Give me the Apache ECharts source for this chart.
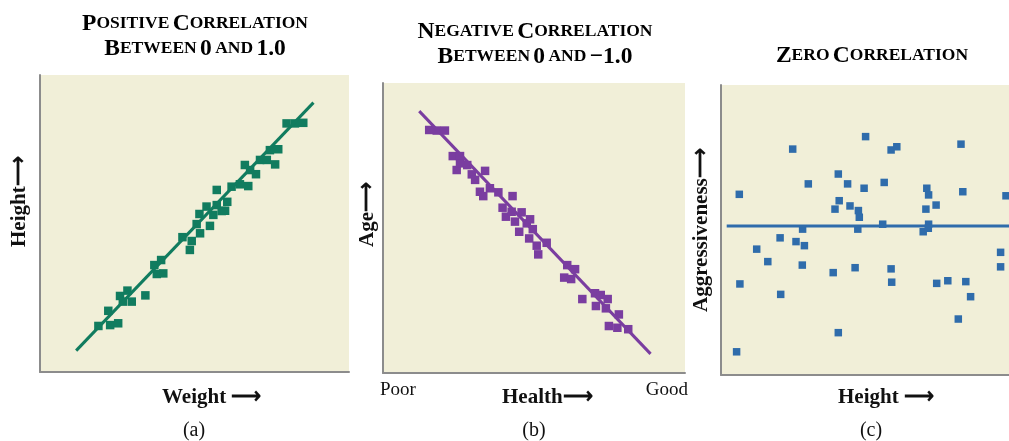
<!DOCTYPE html>
<html>
<head>
<meta charset="utf-8">
<script src="https://cdn.jsdelivr.net/npm/echarts@6/dist/echarts.min.js"></script>
<style>
  html, body { margin: 0; padding: 0; background: #fff; }
  #chart { width: 1009px; height: 441px; }
</style>
</head>
<body>
<div id="chart"></div>
<script>
// values on a 0-100 scale inside each panel
var positivePoints = [
  [18.9,15.5],[22.1,20.6],[22.7,15.8],[25.3,16.4],[25.9,25.6],[28.3,27.4],[26.8,23.7],[29.7,23.7],
  [34.1,25.8],[37.0,36.0],[39.2,37.7],[37.8,33.0],[39.9,33.2],[46.1,45.4],[49.1,44.1],[48.5,41.1],
  [50.7,49.8],[51.8,46.7],[51.6,53.2],[53.9,55.7],[55.0,49.2],[56.1,52.9],[57.2,61.3],[57.2,56.2],
  [58.8,54.2],[59.9,54.3],[60.6,57.3],[62.0,62.4],[64.7,63.2],[67.4,62.6],[66.3,69.7],[68.0,68.0],
  [69.9,66.6],[71.2,71.4],[74.4,74.7],[77.1,75.0],[73.4,71.4],[76.1,69.9],[79.8,83.7],[82.5,83.7],
  [85.2,83.9]
];
var positiveFit = [[11.7,7.2],[88.5,90.7]];

var negativePoints = [
  [15.3,83.8],[17.8,83.6],[20.5,83.6],[23.1,74.8],[25.5,74.8],[24.4,70.0],[25.5,72.3],[27.9,71.7],
  [29.4,68.5],[30.5,66.6],[33.8,69.7],[32.1,62.5],[33.2,61.0],[35.4,63.7],[38.2,62.3],[42.9,61.0],
  [39.6,57.0],[40.7,53.9],[42.6,55.6],[43.7,52.2],[45.9,55.4],[45.1,48.7],[47.6,51.6],[48.7,53.0],
  [49.6,49.6],[48.4,46.4],[50.9,43.9],[51.4,40.9],[54.2,44.9],[61.0,37.2],[63.6,35.8],[60.0,32.9],
  [62.3,32.4],[66.0,25.5],[70.2,27.5],[72.1,26.9],[70.5,23.1],[74.4,25.5],[73.8,22.3],[78.1,20.2],
  [74.8,16.2],[77.6,15.6],[81.2,15.1]
];
var negativeFit = [[12.0,90.3],[88.6,6.6]];

// panel c is cut off at the right edge of the picture, only 0-96 shows
var zeroPoints = [
  [6.1,62.3],[23.9,77.9],[29.1,65.9],[6.3,31.4],[5.2,8.0],[11.9,43.4],[15.6,39.1],[19.7,47.3],
  [19.9,27.8],[25.0,46.0],[27.8,44.6],[27.2,50.3],[27.1,37.9],[37.4,35.3],[39.1,14.6],[39.1,69.3],
  [39.4,60.1],[38.0,57.2],[42.2,65.9],[43.0,58.3],[45.8,56.7],[46.1,54.4],[45.6,50.3],[47.7,64.4],
  [48.2,82.2],[44.7,37.0],[54.4,66.4],[53.9,52.0],[56.7,77.6],[58.6,78.7],[56.7,36.6],[56.9,32.0],
  [68.6,64.4],[69.2,62.1],[71.7,58.6],[68.3,57.2],[69.2,52.0],[67.4,49.4],[69.1,50.6],[71.9,31.6],
  [75.6,32.5],[80.0,79.6],[80.6,63.2],[81.6,32.2],[83.2,27.0],[79.1,19.3],[93.2,42.3],[93.2,37.3],
  [95.0,61.8]
];
var zeroFit = [[1.9,51.4],[96,51.4]];

var titleA = '{b|P}{s|OSITIVE} {b|C}{s|ORRELATION}\n{b|B}{s|ETWEEN} {b|0} {s|AND} {b|1.0}';
var titleB = '{b|N}{s|EGATIVE} {b|C}{s|ORRELATION}\n{b|B}{s|ETWEEN} {b|0} {s|AND} {b|\u22121.0}';
var titleC = '{b|Z}{s|ERO} {b|C}{s|ORRELATION}';

var chart = echarts.init(document.getElementById('chart'));
var serif = 'Liberation Serif';
var capsRich = {
  b: { fontFamily: serif, fontWeight: 'bold', fontSize: 23.5, color: '#222', lineHeight: 25 },
  s: { fontFamily: serif, fontWeight: 'bold', fontSize: 17.5, color: '#222', lineHeight: 25 }
};

function makeAxis(i, max) {
  return {
    gridIndex: i, type: 'value', min: 0, max: max || 100,
    axisLine: { show: true, lineStyle: { color: '#8c8c8c', width: 2 } },
    axisTick: { show: false }, axisLabel: { show: false }, splitLine: { show: false }
  };
}
function titleText(x, y, text) {
  return { type: 'text', x: x, y: y, style: { text: text, rich: capsRich, align: 'center', verticalAlign: 'top' } };
}
function label(x, y, text, opts) {
  var o = opts || {};
  return {
    type: 'text', x: x, y: y, rotation: o.rotation || 0,
    style: {
      text: text, fill: '#111', fontFamily: serif,
      fontWeight: o.weight || 'bold', fontSize: o.size || 21,
      align: o.align || 'left', verticalAlign: 'middle'
    }
  };
}
var gridBg = '#f1efd8';

var option = {
  backgroundColor: '#fff',
  animation: false,
  grid: [
    { left: 40, top: 75, width: 309, height: 297, show: true, backgroundColor: gridBg, borderWidth: 0 },
    { left: 383, top: 83, width: 302, height: 290, show: true, backgroundColor: gridBg, borderWidth: 0 },
    { left: 721, top: 85, right: 0, height: 290, show: true, backgroundColor: gridBg, borderWidth: 0 }
  ],
  xAxis: [makeAxis(0), makeAxis(1), makeAxis(2, 96)],
  yAxis: [makeAxis(0), makeAxis(1), makeAxis(2)],
  series: [
    { type: 'line', xAxisIndex: 0, yAxisIndex: 0, data: positiveFit, symbol: 'none',
      lineStyle: { color: '#117c5f', width: 3 } },
    { type: 'scatter', xAxisIndex: 0, yAxisIndex: 0, data: positivePoints, symbol: 'rect',
      symbolSize: 8.5, itemStyle: { color: '#117c5f', opacity: 1 } },
    { type: 'line', xAxisIndex: 1, yAxisIndex: 1, data: negativeFit, symbol: 'none',
      lineStyle: { color: '#7a3da0', width: 3 } },
    { type: 'scatter', xAxisIndex: 1, yAxisIndex: 1, data: negativePoints, symbol: 'rect',
      symbolSize: 8.5, itemStyle: { color: '#7a3da0', opacity: 1 } },
    { type: 'line', xAxisIndex: 2, yAxisIndex: 2, data: zeroFit, symbol: 'none',
      lineStyle: { color: '#2f6cab', width: 3 } },
    { type: 'scatter', xAxisIndex: 2, yAxisIndex: 2, data: zeroPoints, symbol: 'rect',
      symbolSize: 7.5, itemStyle: { color: '#2f6cab', opacity: 1 } }
  ],
  graphic: [
    titleText(195, 11, titleA),
    titleText(535, 19, titleB),
    titleText(872, 43, titleC),
    label(162, 398, 'Weight \u27f6'),
    label(502, 398, 'Health\u27f6'),
    label(838, 398, 'Height \u27f6'),
    label(20, 247, 'Height\u27f6', { rotation: Math.PI / 2 }),
    label(368, 247, 'Age\u27f6', { rotation: Math.PI / 2 }),
    label(702, 312, 'Aggressiveness\u27f6', { rotation: Math.PI / 2 }),
    label(194, 431, '(a)', { weight: 'normal', size: 20, align: 'center' }),
    label(534, 431, '(b)', { weight: 'normal', size: 20, align: 'center' }),
    label(871, 431, '(c)', { weight: 'normal', size: 20, align: 'center' }),
    label(380, 390, 'Poor', { weight: 'normal', size: 19 }),
    label(688, 390, 'Good', { weight: 'normal', size: 19, align: 'right' })
  ]
};
chart.setOption(option);
</script>
</body>
</html>
